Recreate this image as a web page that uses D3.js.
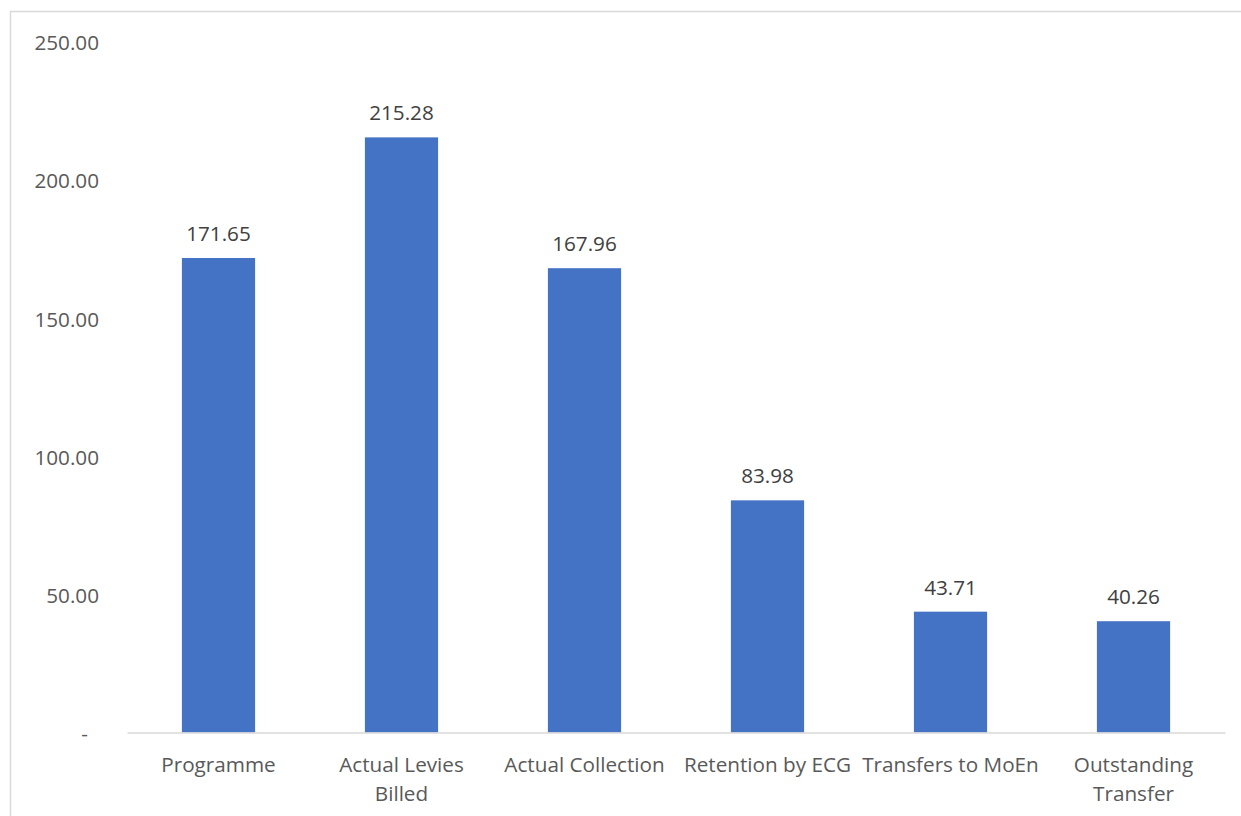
<!DOCTYPE html>
<html>
<head>
<meta charset="utf-8">
<script src="https://cdn.jsdelivr.net/npm/d3@7"></script>
<style>
  html, body { margin: 0; padding: 0; background: #fff; }
  svg { display: block; }
  text { font-family: "Open Sans", sans-serif; }
</style>
</head>
<body>
<svg id="chart" width="1241" height="816"></svg>
<script>
const categories = ["Programme", "Actual Levies Billed", "Actual Collection", "Retention by ECG", "Transfers to MoEn", "Outstanding Transfer"];
const categoryLines = [["Programme"], ["Actual Levies", "Billed"], ["Actual Collection"], ["Retention by ECG"], ["Transfers to MoEn"], ["Outstanding", "Transfer"]];
const values = [171.65, 215.28, 167.96, 83.98, 43.71, 40.26];
const yTicks = [0, 50, 100, 150, 200, 250];

const svg = d3.select("#chart");
const W = 1241, H = 816;
const FS = 20.7;

// outer border
svg.append("rect")
  .attr("x", 10.5).attr("y", 11.5)
  .attr("width", W + 10).attr("height", H + 10)
  .attr("fill", "none").attr("stroke", "#D9D9D9").attr("stroke-width", 1.5);

const x = d3.scaleBand().domain(categories).range([127, 1225]).paddingInner(0.6).paddingOuter(0.3);
const y = d3.scaleLinear().domain([0, 250]).range([732.5, 41.4]);

// y axis labels
const yAxis = d3.axisLeft(y).tickValues(yTicks).tickSize(0).tickPadding(0)
  .tickFormat(d => d === 0 ? "-" : d3.format(".2f")(d));
const gy = svg.append("g").attr("transform", "translate(99,0)").call(yAxis);
gy.select(".domain").remove();
gy.selectAll("text")
  .attr("font-family", "Open Sans, sans-serif")
  .attr("font-size", FS)
  .attr("fill", "#595959")
  .attr("dy", "0.4em")
  .attr("dx", d => d === 0 ? -11 : 0);

// bars
svg.append("g").selectAll("rect").data(values).join("rect")
  .attr("x", (d, i) => x(categories[i]))
  .attr("width", x.bandwidth())
  .attr("y", d => y(d))
  .attr("height", d => y(0) - y(d))
  .attr("fill", "#4472C4");

// baseline axis
const xAxis = d3.axisBottom(x).tickSize(0).tickFormat("");
const gx = svg.append("g").attr("transform", `translate(0,${y(0)})`).call(xAxis);
gx.select(".domain").attr("stroke", "#D9D9D9").attr("stroke-width", 1.5);

// category labels
const lab = svg.append("g").selectAll("text").data(categories).join("text")
  .attr("x", d => x(d) + x.bandwidth() / 2)
  .attr("y", 772)
  .attr("text-anchor", "middle")
  .attr("font-size", FS)
  .attr("fill", "#595959");
lab.each(function(d, i) {
  const t = d3.select(this);
  categoryLines[i].forEach((line, j) => {
    t.append("tspan")
      .attr("x", x(d) + x.bandwidth() / 2)
      .attr("dy", j === 0 ? 0 : 29)
      .text(line);
  });
});

// data labels
svg.append("g").selectAll("text").data(values).join("text")
  .attr("x", (d, i) => x(categories[i]) + x.bandwidth() / 2)
  .attr("y", d => y(d) - 17)
  .attr("text-anchor", "middle")
  .attr("font-size", FS)
  .attr("fill", "#404040")
  .text(d => d3.format(".2f")(d));
</script>
</body>
</html>
